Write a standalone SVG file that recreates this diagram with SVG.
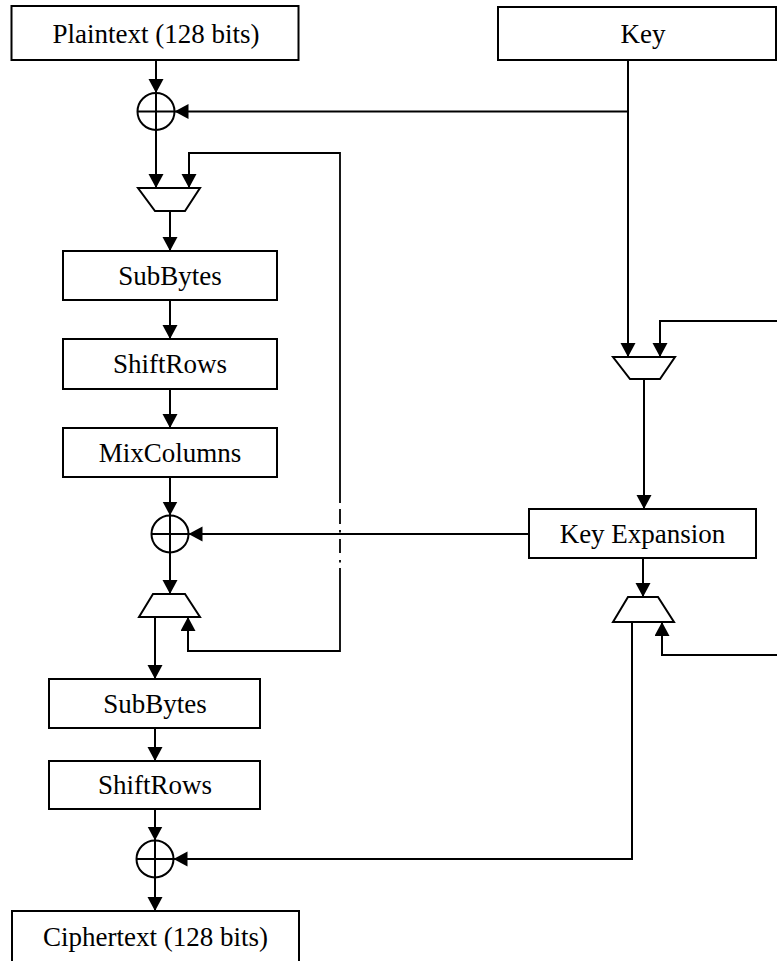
<svg xmlns="http://www.w3.org/2000/svg" width="777" height="961" viewBox="0 0 777 961">
<style>
.box{fill:#fff;stroke:#000;stroke-width:2}
.lbl{font-family:"Liberation Serif","Times New Roman",serif;font-size:27px;fill:#000;text-anchor:middle}
.ln{fill:none;stroke:#000;stroke-width:2}
.fb{fill:none;stroke:#000;stroke-width:1.8}
.arr{fill:none;stroke:#000;stroke-width:2;marker-end:url(#ah)}
.xor{fill:#fff;stroke:#000;stroke-width:2}
.mux{fill:#fff;stroke:#000;stroke-width:2;stroke-linejoin:miter}
</style>
<defs>
<marker id="ah" markerUnits="userSpaceOnUse" markerWidth="15" markerHeight="16" refX="14" refY="7.5" orient="auto">
<path d="M0,0 L14,7.5 L0,15 z" fill="#000"/>
</marker>
</defs>
<rect width="777" height="961" fill="#fff"/>

<g id="connectors">
<!-- plaintext to xor1 -->
<line class="arr" x1="156" y1="60" x2="156" y2="93"/>
<!-- key branch to xor1 -->
<line class="arr" x1="628" y1="111.5" x2="174.5" y2="111.5"/>
<!-- xor1 to mux1 -->
<line class="arr" x1="156" y1="130" x2="156" y2="188"/>
<!-- feedback into mux1 -->
<path class="fb" d="M188,651 L340,651 L340,568"/>
<path class="fb" d="M340,503 L340,153 L189,153"/>
<line class="arr" x1="189" y1="152" x2="189" y2="188"/>
<path class="fb" d="M340,509 V524 M340,530 V532.5 M340,539 V553 M340,560 V562.5"/>
<!-- mux1 to SubBytes -->
<line class="arr" x1="170" y1="211" x2="170" y2="251"/>
<line class="arr" x1="170" y1="300" x2="170" y2="339"/>
<line class="arr" x1="170" y1="389" x2="170" y2="428"/>
<line class="arr" x1="170" y1="477" x2="170" y2="515.5"/>
<!-- key expansion to xor2 -->
<line class="arr" x1="529" y1="534" x2="188.5" y2="534"/>
<!-- xor2 to mux4 -->
<line class="arr" x1="170" y1="552.5" x2="170" y2="594"/>
<!-- mux4 feedback input -->
<line class="arr" x1="188" y1="652" x2="188" y2="617"/>
<!-- mux4 to SubBytes2 -->
<line class="arr" x1="155" y1="617" x2="155" y2="679"/>
<line class="arr" x1="155" y1="728" x2="155" y2="761"/>
<line class="arr" x1="155" y1="809" x2="155" y2="840.5"/>
<!-- mux3 output to xor3 -->
<path class="arr" d="M632,622 L632,859 L173.5,859"/>
<!-- xor3 to ciphertext -->
<line class="arr" x1="155" y1="877.5" x2="155" y2="911"/>
<!-- key to mux2 -->
<line class="arr" x1="628" y1="60" x2="628" y2="357"/>
<!-- feedback into mux2 -->
<path class="arr" d="M777,321 L660,321 L660,357"/>
<!-- mux2 to key expansion -->
<line class="arr" x1="644" y1="379" x2="644" y2="509"/>
<!-- key expansion to mux3 -->
<line class="arr" x1="643" y1="558" x2="643" y2="597"/>
<!-- feedback into mux3 -->
<path class="arr" d="M777,655 L662,655 L662,622"/>
</g>

<g id="plaintext">
<rect class="box" x="11.5" y="6" width="287" height="54"/>
<text class="lbl" x="156" y="42.5">Plaintext (128 bits)</text>
</g>
<g id="key">
<rect class="box" x="498" y="7" width="278" height="53"/>
<text class="lbl" x="643" y="42.5">Key</text>
</g>
<g id="xor1">
<circle class="xor" cx="156" cy="111.5" r="18.5"/>
<path class="ln" d="M137.5,111.5 H174.5 M156,93 V130"/>
</g>
<g id="mux1">
<polygon class="mux" points="138,188 200,188 185,211 155,211"/>
</g>
<g id="subbytes1">
<rect class="box" x="63" y="251" width="214" height="49"/>
<text class="lbl" x="170" y="284.5">SubBytes</text>
</g>
<g id="shiftrows1">
<rect class="box" x="63" y="339" width="214" height="50"/>
<text class="lbl" x="170" y="373">ShiftRows</text>
</g>
<g id="mixcolumns">
<rect class="box" x="63" y="428" width="214" height="49"/>
<text class="lbl" x="170" y="461.5">MixColumns</text>
</g>
<g id="xor2">
<circle class="xor" cx="170" cy="534" r="18.5"/>
<path class="ln" d="M151.5,534 H188.5 M170,515.5 V552.5"/>
</g>
<g id="mux4">
<polygon class="mux" points="153,594 185,594 200,617 139,617"/>
</g>
<g id="subbytes2">
<rect class="box" x="49" y="679" width="211" height="49"/>
<text class="lbl" x="155" y="712.5">SubBytes</text>
</g>
<g id="shiftrows2">
<rect class="box" x="49" y="761" width="211" height="48"/>
<text class="lbl" x="155" y="794">ShiftRows</text>
</g>
<g id="xor3">
<circle class="xor" cx="155" cy="859" r="18.5"/>
<path class="ln" d="M136.5,859 H173.5 M155,840.5 V877.5"/>
</g>
<g id="ciphertext">
<rect class="box" x="12" y="911" width="287" height="70"/>
<text class="lbl" x="155.5" y="946">Ciphertext (128 bits)</text>
</g>
<g id="mux2">
<polygon class="mux" points="613,357 675,357 660,379 630,379"/>
</g>
<g id="keyexpansion">
<rect class="box" x="529" y="509" width="227" height="49"/>
<text class="lbl" x="642.5" y="542.5">Key Expansion</text>
</g>
<g id="mux3">
<polygon class="mux" points="628,597 658,597 674,622 613,622"/>
</g>
</svg>
